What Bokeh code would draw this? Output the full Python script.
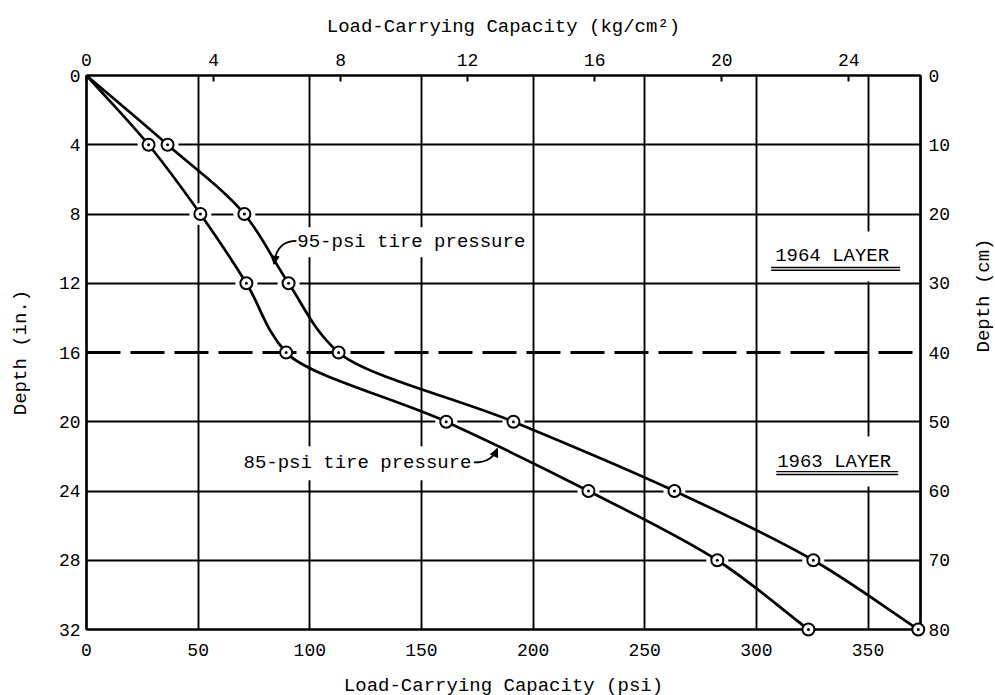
import math
from bokeh.plotting import figure
from bokeh.models import (Range1d, LinearAxis, FixedTicker, Span, Label, Arrow,
                          NormalHead, ColumnDataSource)
from bokeh.embed import file_html
from bokeh.resources import INLINE

# ---------------- data ----------------
depth_in = [0, 4, 8, 12, 16, 20, 24, 28, 32]
psi_95 = [0, 36.3, 70.7, 90.5, 112.9, 191.2, 263.3, 325.5, 372.5]
psi_85 = [0, 27.8, 51.0, 71.6, 89.4, 161.1, 224.8, 282.5, 323.3]

psi_ticks = [0, 50, 100, 150, 200, 250, 300, 350]
kg_ticks = [0, 4, 8, 12, 16, 20, 24]
depth_ticks = [0, 4, 8, 12, 16, 20, 24, 28, 32]
cm_ticks = [0, 10, 20, 30, 40, 50, 60, 70, 80]
layer_boundary_in = 16
PSI_PER_KGCM2 = 14.223
X_MAX = 373.5
CM_PER_IN_SCALE = 2.5

FONT = "Liberation Mono"

def monotone_bezier(xs, ds):
    """Smooth curve x(depth) through the points: monotone cubic Hermite
    (harmonic-mean tangents) written as cubic Bezier segments."""
    n = len(xs)
    sec = [(xs[i + 1] - xs[i]) / (ds[i + 1] - ds[i]) for i in range(n - 1)]
    m = [sec[0]]
    for i in range(1, n - 1):
        a, b = sec[i - 1], sec[i]
        m.append(0.0 if a * b <= 0 else 2 * a * b / (a + b))
    m.append(sec[-1])
    d = dict(x0=[], y0=[], x1=[], y1=[], cx0=[], cy0=[], cx1=[], cy1=[])
    for i in range(n - 1):
        h = ds[i + 1] - ds[i]
        d["x0"].append(xs[i]); d["y0"].append(ds[i])
        d["x1"].append(xs[i + 1]); d["y1"].append(ds[i + 1])
        d["cx0"].append(xs[i] + m[i] * h / 3.0); d["cy0"].append(ds[i] + h / 3.0)
        d["cx1"].append(xs[i + 1] - m[i + 1] * h / 3.0); d["cy1"].append(ds[i + 1] - h / 3.0)
    return ColumnDataSource(d)

p = figure(frame_width=834, frame_height=554,
           min_border_left=86, min_border_right=74,
           min_border_top=75, min_border_bottom=65,
           x_range=Range1d(0, X_MAX), y_range=Range1d(32, 0),
           output_backend="svg", toolbar_location=None,
           background_fill_color="white", border_fill_color="white")

p.extra_x_ranges = {"kg": Range1d(0, X_MAX / PSI_PER_KGCM2)}
p.extra_y_ranges = {"cm": Range1d(32 * CM_PER_IN_SCALE, 0)}

bottom_axis = p.below[0]
left_axis = p.left[0]
top_axis = LinearAxis(x_range_name="kg")
right_axis = LinearAxis(y_range_name="cm")
p.add_layout(top_axis, "above")
p.add_layout(right_axis, "right")

bottom_axis.ticker = FixedTicker(ticks=psi_ticks)
left_axis.ticker = FixedTicker(ticks=depth_ticks)
top_axis.ticker = FixedTicker(ticks=kg_ticks)
right_axis.ticker = FixedTicker(ticks=cm_ticks)

bottom_axis.axis_label = "Load-Carrying Capacity (psi)"
left_axis.axis_label = "Depth (in.)"
top_axis.axis_label = "Load-Carrying Capacity (kg/cm\u00b2)"
right_axis.axis_label = "Depth (cm)"

for ax in [bottom_axis, left_axis, top_axis, right_axis]:
    ax.axis_line_color = "black"
    ax.axis_line_width = 2.2
    ax.major_tick_in = 0
    ax.major_tick_out = 0
    ax.minor_tick_line_color = None
    ax.major_label_text_font = FONT
    ax.major_label_text_font_size = "18px"
    ax.major_label_text_color = "black"
    ax.axis_label_text_font = FONT
    ax.axis_label_text_font_size = "19px"
    ax.axis_label_text_font_style = "normal"
    ax.axis_label_text_color = "black"

top_axis.major_tick_in = 6
top_axis.major_tick_line_color = "black"
top_axis.major_tick_line_width = 2
right_axis.axis_label_orientation = math.pi / 2

bottom_axis.major_label_standoff = 14
bottom_axis.axis_label_standoff = 16
top_axis.major_label_standoff = 10
top_axis.axis_label_standoff = 13
left_axis.major_label_standoff = 6
left_axis.axis_label_standoff = 24
right_axis.major_label_standoff = 8
right_axis.axis_label_standoff = 31

p.xgrid.ticker = FixedTicker(ticks=psi_ticks)
p.ygrid.ticker = FixedTicker(ticks=[d for d in depth_ticks if d != layer_boundary_in])
for g in [p.xgrid[0], p.ygrid[0]]:
    g.grid_line_color = "black"
    g.grid_line_width = 1.9
    g.grid_line_alpha = 1.0

p.outline_line_color = "black"
p.outline_line_width = 2.2
p.outline_line_alpha = 1.0

# white halos: the drafted grid lines stop short of the plotted points
for xs in (psi_95, psi_85):
    p.scatter(xs[1:-1], depth_in[1:-1], marker="circle", size=22,
              fill_color="white", line_color=None)

p.add_layout(Span(location=layer_boundary_in, dimension="width", line_color="black",
                  line_width=3, line_dash="34 10"))

# curves
for xs in (psi_95, psi_85):
    src = monotone_bezier(xs, depth_in)
    p.bezier(x0="x0", y0="y0", x1="x1", y1="y1", cx0="cx0", cy0="cy0",
             cx1="cx1", cy1="cy1", source=src, line_color="black", line_width=2.7)
for xs in (psi_95, psi_85):
    r = p.scatter(xs[1:], depth_in[1:], marker="circle_dot", size=12,
                  fill_color="white", line_color="black", line_width=2)
    r.level = "overlay"

# text annotations (x_offset compensates the padding so the text starts at x)
def text_label(x, y, text, pad):
    return Label(x=x, y=y, text=text, text_font=FONT, text_font_size="19px",
                 text_baseline="middle", text_color="black",
                 background_fill_color="white", padding=pad, x_offset=-pad)

for lab in (text_label(94.4, 9.63, "95-psi tire pressure", 4),
            text_label(70.3, 22.4, "85-psi tire pressure", 6),
            text_label(308.4, 10.45, "1964 LAYER", 14),
            text_label(309.3, 22.3, "1963 LAYER", 14)):
    p.add_layout(lab)

# double underlines below the layer labels
ul = p.segment(x0=[306.6, 306.6, 308.9, 308.9], y0=[11.09, 11.25, 22.88, 23.05],
               x1=[364.4, 364.4, 363.5, 363.5], y1=[11.09, 11.25, 22.88, 23.05],
               line_color="black", line_width=1.4)
ul.level = "overlay"

# leader lines
ld = p.bezier(x0=[94.0, 173.5], y0=[9.55, 22.35], x1=[84.0, 184.0], y1=[10.9, 21.55],
              cx0=[86.5, 180.0], cy0=[9.55, 22.35], cx1=[84.5, 182.5], cy1=[10.2, 22.0],
              line_color="black", line_width=1.8)
ld.level = "overlay"
p.add_layout(Arrow(end=NormalHead(size=8, fill_color="black", line_color="black"),
                   x_start=84.3, y_start=10.6, x_end=84.0, y_end=10.9,
                   line_color="black", line_width=1.5, level="overlay"))
p.add_layout(Arrow(end=NormalHead(size=8, fill_color="black", line_color="black"),
                   x_start=183.3, y_start=21.75, x_end=184.0, y_end=21.55,
                   line_color="black", line_width=1.5, level="overlay"))

open("out.html", "w").write(file_html(p, INLINE))
